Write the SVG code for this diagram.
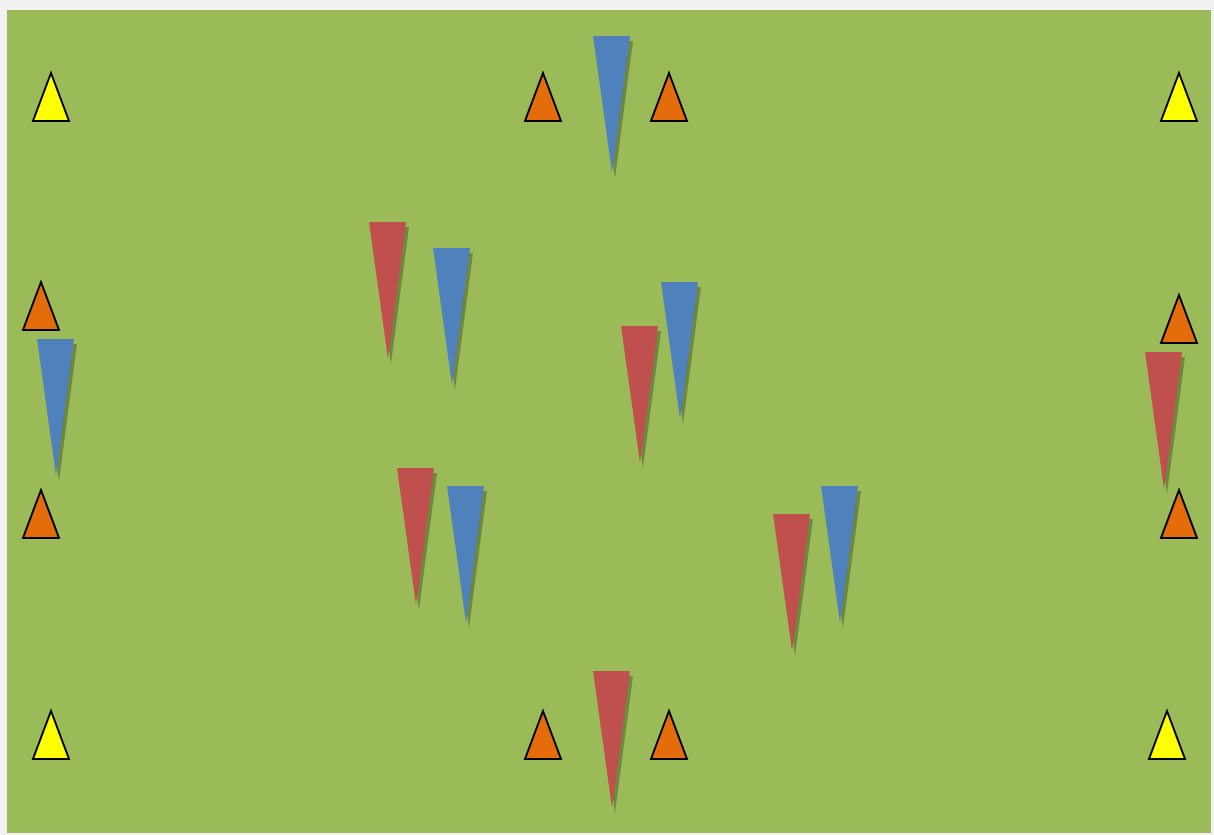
<svg xmlns="http://www.w3.org/2000/svg" xmlns:xlink="http://www.w3.org/1999/xlink" width="1214" height="835" viewBox="0 0 1214 835">
<style>
.cone{stroke:#000;stroke-width:2;stroke-linejoin:miter}
.yellow{fill:#FFFF00}
.orange{fill:#E46C0A}
.blue{fill:#4F81BD}
.red{fill:#C0504D}
.shadow{fill:#3a4a20;fill-opacity:0.45}
</style>
<defs>
<polygon id="cone" points="18,0 36,48 0,48"/>
<polygon id="wedge" points="0,0 37,0 19,137"/>
</defs>
<rect x="0" y="0" width="1214" height="835" fill="#F1F1F1"/>
<rect x="7" y="10" width="1204" height="823" fill="#9BBB59"/>

<g id="cone-y1" transform="translate(33,73)"><use href="#cone" class="cone yellow"/></g>
<g id="cone-y2" transform="translate(1161,73)"><use href="#cone" class="cone yellow"/></g>
<g id="cone-y3" transform="translate(33,711)"><use href="#cone" class="cone yellow"/></g>
<g id="cone-y4" transform="translate(1149,711)"><use href="#cone" class="cone yellow"/></g>

<g id="cone-o1" transform="translate(525,73)"><use href="#cone" class="cone orange"/></g>
<g id="cone-o2" transform="translate(651,73)"><use href="#cone" class="cone orange"/></g>
<g id="cone-o3" transform="translate(23,282)"><use href="#cone" class="cone orange"/></g>
<g id="cone-o4" transform="translate(1161,295)"><use href="#cone" class="cone orange"/></g>
<g id="cone-o5" transform="translate(23,490)"><use href="#cone" class="cone orange"/></g>
<g id="cone-o6" transform="translate(1161,490)"><use href="#cone" class="cone orange"/></g>
<g id="cone-o7" transform="translate(525,711)"><use href="#cone" class="cone orange"/></g>
<g id="cone-o8" transform="translate(651,711)"><use href="#cone" class="cone orange"/></g>

<g id="blue-1" transform="translate(593,36)"><use href="#wedge" class="shadow" x="3" y="5"/><use href="#wedge" class="blue"/></g>
<g id="blue-2" transform="translate(433,248)"><use href="#wedge" class="shadow" x="3" y="5"/><use href="#wedge" class="blue"/></g>
<g id="blue-3" transform="translate(661,282)"><use href="#wedge" class="shadow" x="3" y="5"/><use href="#wedge" class="blue"/></g>
<g id="blue-4" transform="translate(37,339)"><use href="#wedge" class="shadow" x="3" y="5"/><use href="#wedge" class="blue"/></g>
<g id="blue-5" transform="translate(447,486)"><use href="#wedge" class="shadow" x="3" y="5"/><use href="#wedge" class="blue"/></g>
<g id="blue-6" transform="translate(821,486)"><use href="#wedge" class="shadow" x="3" y="5"/><use href="#wedge" class="blue"/></g>

<g id="red-1" transform="translate(369,222)"><use href="#wedge" class="shadow" x="3" y="5"/><use href="#wedge" class="red"/></g>
<g id="red-2" transform="translate(621,326)"><use href="#wedge" class="shadow" x="3" y="5"/><use href="#wedge" class="red"/></g>
<g id="red-3" transform="translate(1145,352)"><use href="#wedge" class="shadow" x="3" y="5"/><use href="#wedge" class="red"/></g>
<g id="red-4" transform="translate(397,468)"><use href="#wedge" class="shadow" x="3" y="5"/><use href="#wedge" class="red"/></g>
<g id="red-5" transform="translate(773,514)"><use href="#wedge" class="shadow" x="3" y="5"/><use href="#wedge" class="red"/></g>
<g id="red-6" transform="translate(593,671)"><use href="#wedge" class="shadow" x="3" y="5"/><use href="#wedge" class="red"/></g>
</svg>
